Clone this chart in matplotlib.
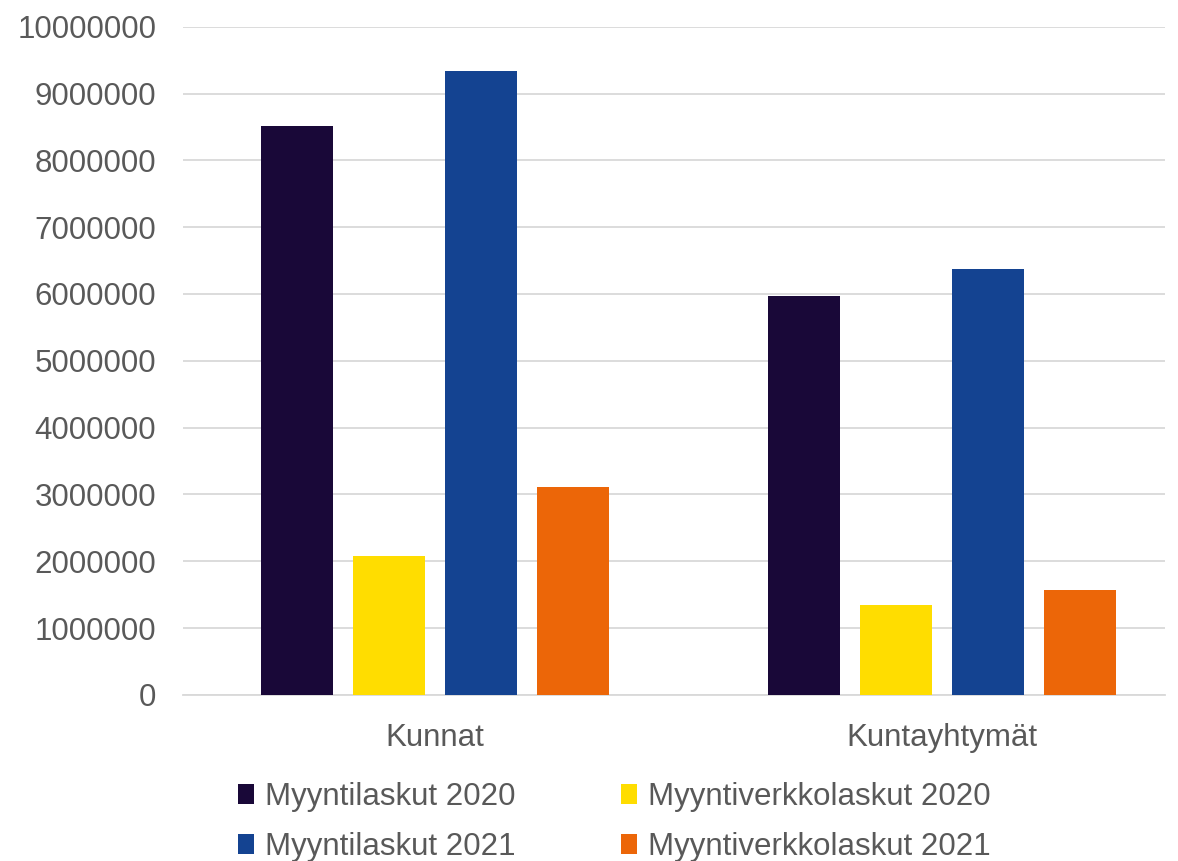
import numpy as np
import matplotlib.pyplot as plt

# data
categories = ['Kunnat', 'Kuntayhtymät']
series_names = ['Myyntilaskut 2020', 'Myyntiverkkolaskut 2020',
                'Myyntilaskut 2021', 'Myyntiverkkolaskut 2021']
myyntilaskut_2020 = [8520000, 5970000]
myyntiverkkolaskut_2020 = [2080000, 1350000]
myyntilaskut_2021 = [9340000, 6380000]
myyntiverkkolaskut_2021 = [3110000, 1570000]
yticks = list(range(0, 10000001, 1000000))

colors = ['#190838', '#FFDD00', '#144391', '#EC6608']
text_color = '#595959'

plt.rcParams['font.family'] = ['Liberation Sans', 'DejaVu Sans']

fig = plt.figure(figsize=(11.78, 8.61), dpi=100)
ax = fig.add_axes([0.155, 0.193, 0.834, 0.776])

x = np.arange(len(categories))
width = 0.142
offsets = [-0.272, -0.0907, 0.0907, 0.272]
all_series = [myyntilaskut_2020, myyntiverkkolaskut_2020,
              myyntilaskut_2021, myyntiverkkolaskut_2021]

handles = []
for vals, off, col, name in zip(all_series, offsets, colors, series_names):
    b = ax.bar(x + off, vals, width, color=col, label=name, zorder=3)
    handles.append(b)

ax.set_xlim(-0.497, 1.44)
ax.set_ylim(0, 10000000)
ax.set_yticks(yticks)
ax.set_yticklabels([str(v) for v in yticks])
ax.set_xticks(x)
ax.set_xticklabels(categories)

ax.grid(axis='y', color='#D9D9D9', linewidth=1.3, zorder=0)
for s in ['top', 'right', 'left']:
    ax.spines[s].set_visible(False)
ax.spines['bottom'].set_color('#D9D9D9')
ax.spines['bottom'].set_linewidth(1.3)
ax.tick_params(axis='both', length=0, labelsize=22.5, colors=text_color)
ax.tick_params(axis='y', pad=19)
ax.tick_params(axis='x', pad=20)

# legend fills row by row in the reference
order = [0, 2, 1, 3]
leg = fig.legend([handles[i] for i in order], [series_names[i] for i in order],
                 loc='upper left', bbox_to_anchor=(0.202, 0.092), ncol=2,
                 frameon=False, fontsize=22.5, handlelength=0.5, handleheight=0.6,
                 handletextpad=0.35, columnspacing=3.4, labelspacing=0.65,
                 borderpad=0, borderaxespad=0)
for t in leg.get_texts():
    t.set_color(text_color)

fig.savefig('out.png', dpi=100)
